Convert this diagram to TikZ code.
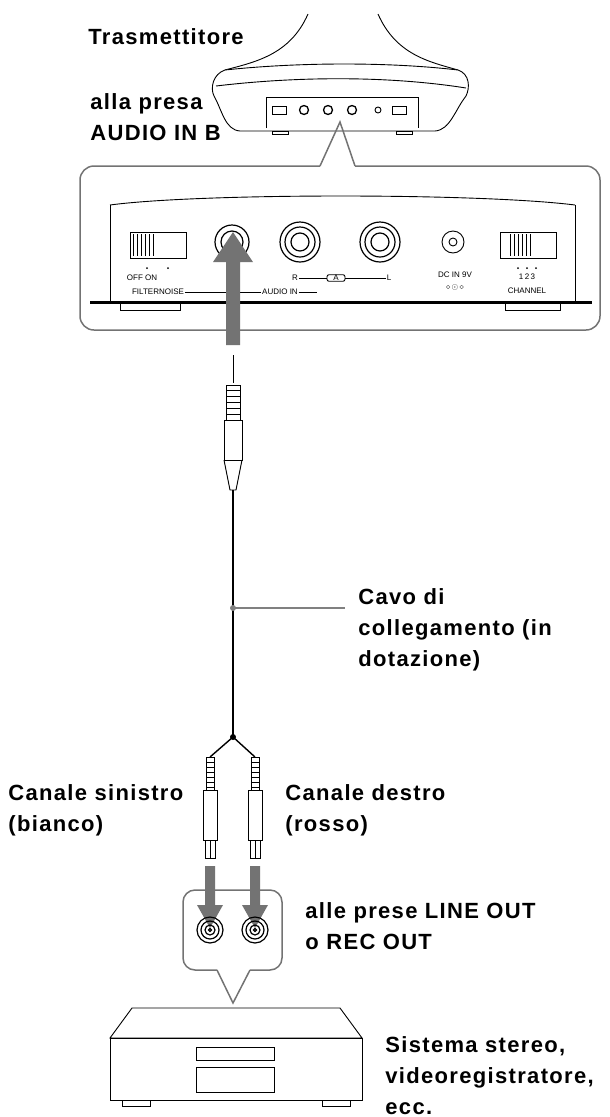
\documentclass[tikz,border=0pt]{standalone}
\usepackage{fontspec}
\setmainfont{Liberation Sans}
\newfontfamily\lblfamily[LetterSpace=6]{Liberation Sans}
\usepackage{tikz}
\newcommand{\lbl}{\lblfamily\fontsize{22}{31}\selectfont\bfseries}
\newcommand{\panelfont}{\fontsize{8}{9}\selectfont}
\tikzset{
  txt/.style={align=left,anchor=north west,inner sep=0pt,font=\lbl},
  small/.style={inner sep=0.5pt,font=\panelfont},
  jackring/.style={draw,line width=1.2pt},
  greyarrow/.style={fill=black!55,draw=none},
}
\begin{document}
\begin{tikzpicture}[x=1pt,y=-1pt,line width=0.9pt]
\useasboundingbox (0,0) rectangle (610,1117);
% transmitter
\node[txt] (tx) at (88,28) {Trasmettitore};
\draw (308,14) .. controls (290,55) and (255,62) .. (225,70);
\draw (378,14) .. controls (396,55) and (430,62) .. (458,70);
\draw[fill=white] (225,70) .. controls (300,62) and (390,62) .. (458,70)
  .. controls (470,74) and (470,88) .. (466,96)
  .. controls (455,110) and (450,130) .. (435,131)
  -- (240,131) .. controls (225,130) and (222,110) .. (214,96)
  .. controls (210,88) and (213,74) .. (225,70) -- cycle;
\draw (216,86) .. controls (300,76) and (390,76) .. (466,88);
\draw (266,128) -- (266,97) -- (418,97) -- (418,128);
\draw (272,106) rectangle (286,114) (392,106) rectangle (406,114);
\foreach \x in {304,328,352} \draw[line width=1.3pt] (\x,110) circle (4.5);
\draw (378,110) circle (3);
\draw (272,131) rectangle (288,134) (396,131) rectangle (412,134);
\node[txt] (presab) at (90,93) {alla presa\\AUDIO IN B};
% callout
\draw[black!55,line width=1.5pt,rounded corners=14pt]
  (320,166) -- (80,166) -- (80,330) -- (600,330) -- (600,166) -- (355,166);
\draw[black!55,line width=1.5pt] (320,166) -- (340,122) -- (355,166);
% panel
\draw (110,205) .. controls (200,193) and (480,193) .. (575,205);
\draw (110,205) -- (110,302) (575,205) -- (575,302);
\draw (120,302) rectangle (180,310) (505,302) rectangle (560,310);
\draw[line width=3pt] (90,302) -- (592,302);
\draw (130,232) rectangle (186,258);
\foreach \x in {133,137,...,153} \draw (\x,234) -- (\x,256);
\draw (500,232) rectangle (556,258);
\foreach \x in {510,514,...,530} \draw (\x,234) -- (\x,256);
\draw[jackring] (232,242) circle (17) (232,242) circle (11);
\foreach \x in {300,380} \draw[jackring] (\x,242) circle (20) (\x,242) circle (15) (\x,242) circle (9);
\draw (453,242) circle (11) (453,242) circle (4);
\node[small] (offon) at (142,278) {OFF ON};
\node[small] (fn) at (158,292) {FILTERNOISE};
\node[small,draw,rounded corners=2pt] (bbox) at (232,279) {B};
\node[small] (rr) at (295,278) {R};
\node[small,draw,rounded corners=2pt,minimum width=18pt] (abox) at (336,278) {A};
\node[small] (ll) at (389,278) {L};
\node[small] (ain) at (280,292) {AUDIO IN};
\draw (rr) -- (abox) -- (ll) (fn) -- (ain) (ain.east) -- ++(18,0);
\node[small] (dcin) at (455,275) {DC IN 9V};
\node[small] (polar) at (455,287) {$\diamond$\,$\odot$\,$\diamond$};
\node[small] (chnum) at (527,277) {1\,2\,3};
\node[small] (chan) at (527,291) {CHANNEL};
\foreach \x in {147,168,518,527,536} \fill (\x,268) circle (1);
% upward arrow into jack B
\fill[greyarrow] (226,345) -- (226,262) -- (213,262) -- (233,232) -- (253,262) -- (240,262) -- (240,345) -- cycle;
% mini plug and cable
\draw (233,355) -- (233,383);
\draw[fill=white] (226,385) rectangle (240,420);
\foreach \y in {390,396,...,414} \draw (226,\y) -- (240,\y);
\draw[fill=white] (224,420) rectangle (242,460);
\draw (224,460) -- (230,490) -- (236,490) -- (242,460);
\draw[line width=1.4pt] (233,490) -- (233,737);
\coordinate (cablemid) at (233,608);
\coordinate (labelend) at (345,608);
\draw[black!50,line width=1.4pt] (cablemid) -- (labelend);
\fill[black!50] (cablemid) circle (3);
\node[txt] (cavo) at (358,588) {Cavo di\\collegamento (in\\dotazione)};
% split and RCA plugs
\coordinate (split) at (233,737);
\fill (split) circle (3);
\foreach \x in {210,255} {
  \draw[line width=1.4pt] (split) -- (\x,757);
  \draw[fill=white] (\x-4,757) rectangle (\x+4,790);
  \foreach \y in {762,767,...,787} \draw (\x-4,\y) -- (\x+4,\y);
  \draw[fill=white] (\x-7,790) rectangle (\x+7,840);
  \draw[fill=white] (\x-5,840) rectangle (\x+5,858);
  \draw (\x,840) -- (\x,858);
  \fill[greyarrow] (\x-5,866) -- (\x-5,905) -- (\x-13,905) -- (\x,928) -- (\x+13,905) -- (\x+5,905) -- (\x+5,866) -- cycle;
}
\node[txt] (sx) at (8,784) {Canale sinistro\\(bianco)};
\node[txt] (dx) at (285,784) {Canale destro\\(rosso)};
% small callout
\draw[black!55,line width=1.5pt,rounded corners=12pt]
  (217,970) -- (183,970) -- (183,890) -- (282,890) -- (282,970) -- (250,970);
\draw[black!55,line width=1.5pt] (217,970) -- (233,1003) -- (250,970);
\foreach \x in {210,255} \draw[jackring] (\x,930) circle (13) (\x,930) circle (9) (\x,930) circle (5) (\x,930) circle (1.5);
\node[txt] (lineout) at (305,902) {alle prese LINE OUT\\o REC OUT};
% stereo system
\draw (132,1008) -- (340,1008) -- (362,1038) -- (110,1038) -- cycle;
\draw (110,1038) rectangle (362,1100);
\draw (196,1047) rectangle (274,1060) (196,1067) rectangle (274,1092);
\draw (122,1100) rectangle (150,1106) (322,1100) rectangle (350,1106);
\node[txt] (stereo) at (385,1036) {Sistema stereo,\\videoregistratore,\\ecc.};
\end{tikzpicture}
\end{document}
